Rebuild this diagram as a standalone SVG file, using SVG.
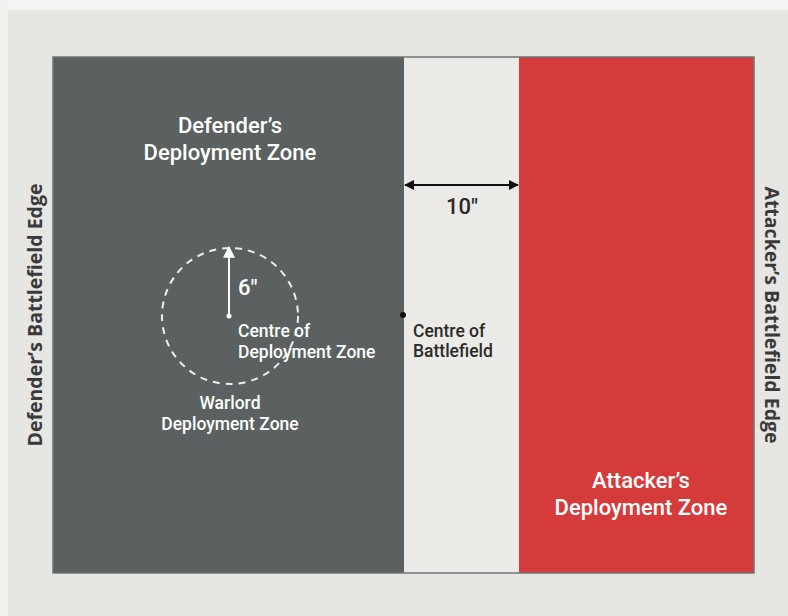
<svg xmlns="http://www.w3.org/2000/svg" width="788" height="616" viewBox="0 0 788 616">
<defs>
<style>
.lbl{font-family:Roboto,"Liberation Sans",sans-serif;font-weight:500;fill:#ffffff}
.big{font-size:22px}
.sm{font-size:17.5px}
.dark{fill:#2a2a2a}
.edge{font-family:"Open Sans","DejaVu Sans",sans-serif;font-size:19.5px;font-weight:bold;fill:#3a3a3a}
</style>
<marker id="ab" viewBox="0 0 10 10" refX="9" refY="5" markerWidth="14" markerHeight="10" markerUnits="userSpaceOnUse" orient="auto-start-reverse"><path d="M0,0 L10,5 L0,10 Z" fill="#111"/></marker>
<marker id="aw" viewBox="0 0 10 10" refX="9" refY="5" markerWidth="16" markerHeight="12" markerUnits="userSpaceOnUse" orient="auto"><path d="M0,0 L10,5 L0,10 Z" fill="#fff"/></marker>
</defs>
<rect x="0" y="0" width="788" height="616" fill="#e6e6e2"/>
<rect x="0" y="0" width="788" height="10" fill="#f4f4f2"/>
<rect x="0" y="0" width="8" height="616" fill="#f0f0ee"/>
<g id="board">
<rect x="53" y="57" width="351" height="516" fill="#5a6160"/>
<rect x="404" y="57" width="115" height="516" fill="#ebeae6"/>
<rect x="519" y="57" width="235" height="516" fill="#d63b3b"/>
<rect x="53" y="57" width="701" height="516" fill="none" stroke="#6f7474" stroke-width="1.5"/>
</g>
<g id="defender-zone">
<text class="lbl big" x="230" y="133" text-anchor="middle">Defender’s</text>
<text class="lbl big" x="230" y="160" text-anchor="middle">Deployment Zone</text>
</g>
<g id="attacker-zone">
<text class="lbl big" x="641" y="488" text-anchor="middle">Attacker’s</text>
<text class="lbl big" x="641" y="515" text-anchor="middle">Deployment Zone</text>
</g>
<g id="defender-edge">
<text class="edge" transform="translate(42,315) rotate(-90)" text-anchor="middle">Defender’s Battlefield Edge</text>
</g>
<g id="attacker-edge">
<text class="edge" transform="translate(765,315) rotate(90)" text-anchor="middle">Attacker’s Battlefield Edge</text>
</g>
<g id="warlord-zone">
<circle cx="230" cy="316" r="68" fill="none" stroke="#eeeeee" stroke-width="2" stroke-dasharray="7,6"/>
<circle cx="229" cy="316" r="2.5" fill="#fff"/>
<text class="lbl big" x="238" y="295">6"</text>
<text class="lbl sm" x="238" y="337">Centre of</text>
<text class="lbl sm" x="238" y="358">Deployment Zone</text>
<text class="lbl sm" x="230" y="409" text-anchor="middle">Warlord</text>
<text class="lbl sm" x="230" y="430" text-anchor="middle">Deployment Zone</text>
</g>
<g id="centre-battlefield">
<circle cx="403" cy="315" r="3" fill="#111"/>
<text class="lbl sm dark" x="413" y="337">Centre of</text>
<text class="lbl sm dark" x="413" y="357">Battlefield</text>
</g>
<g id="gap-label">
<text class="lbl big dark" x="462" y="214" text-anchor="middle">10"</text>
</g>
<g id="connectors">
<line x1="405" y1="185" x2="518" y2="185" stroke="#111" stroke-width="2" marker-start="url(#ab)" marker-end="url(#ab)"/>
<line x1="229" y1="316" x2="229" y2="247" stroke="#fff" stroke-width="2" marker-end="url(#aw)"/>
</g>
</svg>
